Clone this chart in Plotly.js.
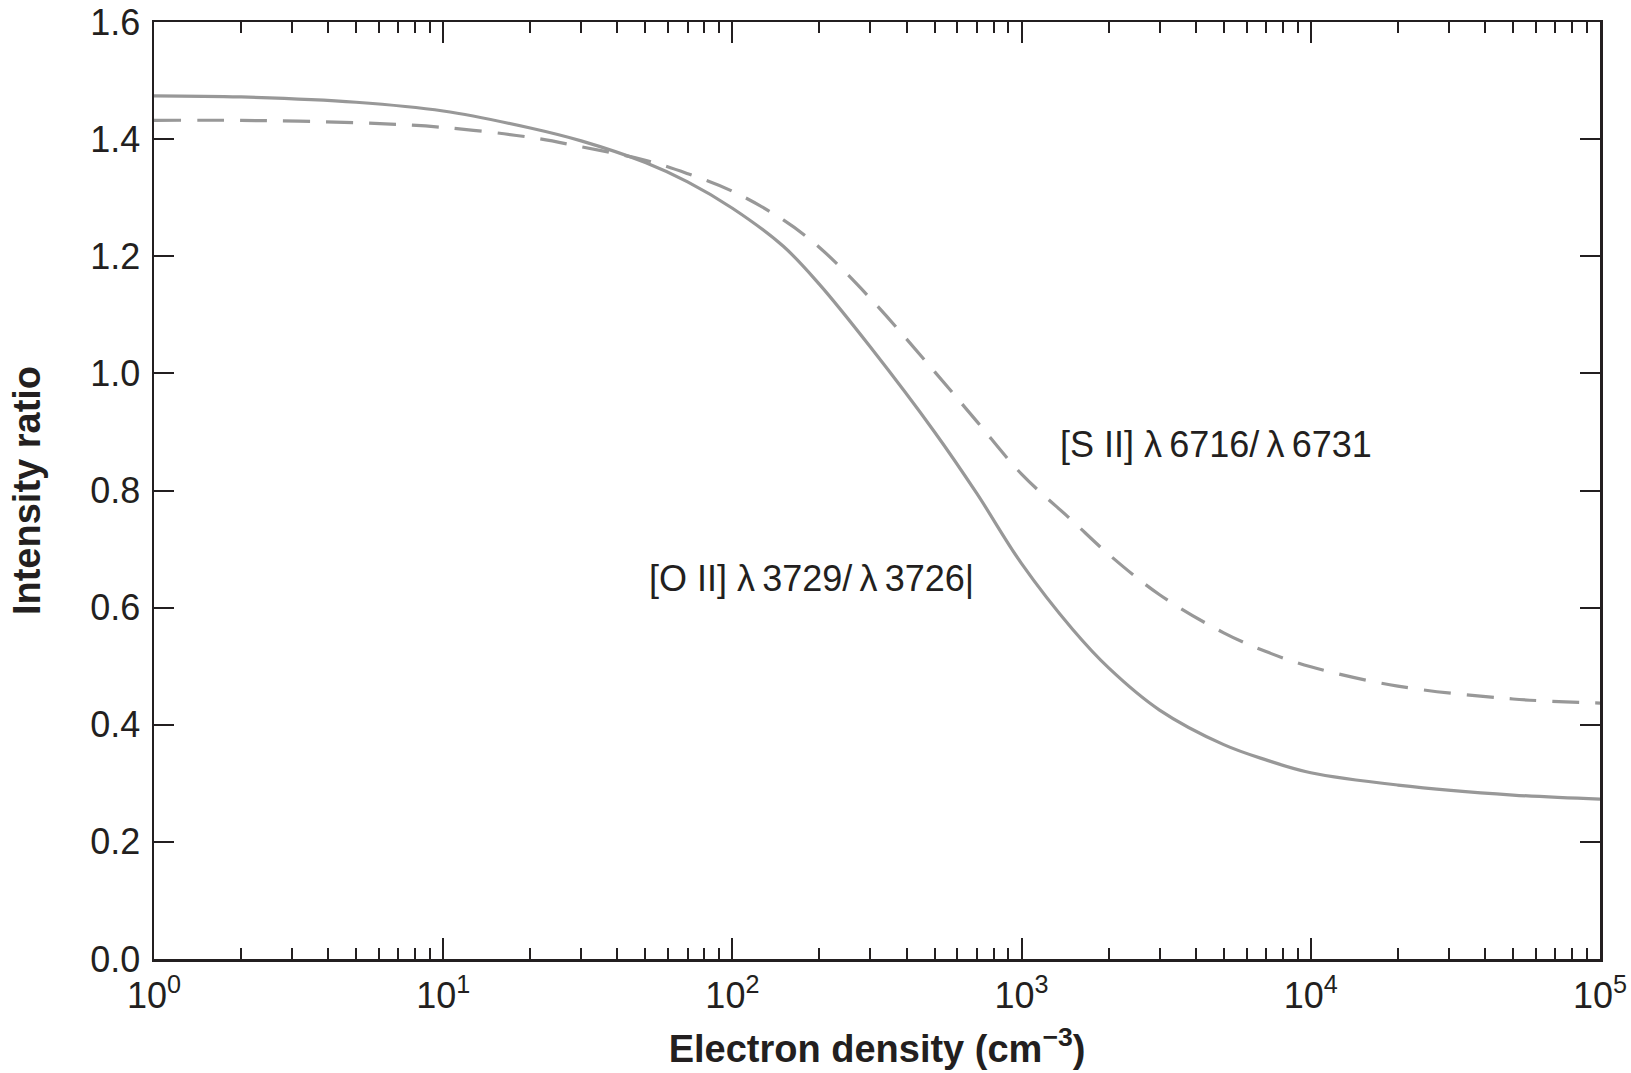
<!DOCTYPE html>
<html><head><meta charset="utf-8">
<script src="https://cdn.plot.ly/plotly-3.0.1.min.js"></script>
<style>html,body{margin:0;padding:0;background:#fff;}#chart{width:1631px;height:1073px;}</style>
</head><body><div id="chart"></div>
<script>
// Electron density (cm^-3)
const density = [1, 2, 5, 10, 20, 30, 50, 70, 100, 150, 200, 300, 500, 700, 1000, 1500, 2000, 3000, 5000, 7000, 10000, 20000, 50000, 100000];
// [O II] 3729/3726 intensity ratio (solid)
const oiiRatio = [1.474, 1.472, 1.463, 1.448, 1.419, 1.397, 1.360, 1.327, 1.282, 1.217, 1.152, 1.045, 0.900, 0.795, 0.675, 0.563, 0.497, 0.425, 0.366, 0.340, 0.318, 0.297, 0.280, 0.273];
// [S II] 6716/6731 intensity ratio (dashed)
const siiRatio = [1.432, 1.432, 1.428, 1.420, 1.403, 1.387, 1.364, 1.341, 1.311, 1.262, 1.215, 1.128, 1.003, 0.918, 0.828, 0.748, 0.691, 0.622, 0.557, 0.525, 0.499, 0.466, 0.444, 0.437];

const xTickVals = [1, 10, 100, 1000, 10000, 100000];
const xTickText = ['10<sup>0</sup>', '10<sup>1</sup>', '10<sup>2</sup>', '10<sup>3</sup>', '10<sup>4</sup>', '10<sup>5</sup>'];
const yTickVals = [0, 0.2, 0.4, 0.6, 0.8, 1.0, 1.2, 1.4, 1.6];
const minorMultipliers = [2, 3, 4, 5, 6, 7, 8, 9];

const labelOII = '[O II] λ\u20093729/\u2009λ\u20093726|';
const labelSII = '[S II] λ\u20096716/\u2009λ\u20096731';
const xTitle = 'Electron density (cm<sup>−3</sup>)';
const yTitle = 'Intensity ratio';

const minorVals = [];
xTickVals.slice(0, -1).forEach(d => minorMultipliers.forEach(m => minorVals.push(d * m)));

const ink = '#231f20';
const curveColor = 'rgb(152,152,152)';
const font = 'Liberation Sans, Arial, Helvetica, sans-serif';

const traces = [
  {x: density, y: oiiRatio, mode: 'lines', name: 'OII', line: {color: curveColor, width: 3.2, shape: 'spline', smoothing: 1}},
  {x: density, y: siiRatio, mode: 'lines', name: 'SII', line: {color: curveColor, width: 3.2, shape: 'spline', smoothing: 1, dash: '27px,16px'}}
];

const layout = {
  width: 1631, height: 1073,
  margin: {l: 154, r: 31, t: 22, b: 114},
  paper_bgcolor: '#fff', plot_bgcolor: '#fff',
  showlegend: false,
  font: {family: font, color: ink, size: 36},
  xaxis: {
    type: 'log', range: [0, 5],
    tickmode: 'array', tickvals: xTickVals, ticktext: xTickText,
    ticks: 'inside', ticklen: 21, tickwidth: 2, tickcolor: ink,
    ticklabelstandoff: 3,
    minor: {tickmode: 'array', tickvals: minorVals, ticks: 'inside', ticklen: 11, tickwidth: 2, tickcolor: ink, showgrid: false},
    showline: true, linewidth: 2.5, linecolor: ink, mirror: 'ticks',
    showgrid: false, zeroline: false,
    tickfont: {size: 36, color: ink, family: font},
    title: {text: xTitle, font: {size: 38, color: ink, family: font, weight: 'bold'}, standoff: 21}
  },
  yaxis: {
    range: [0, 1.6],
    tickmode: 'array', tickvals: yTickVals, tickformat: '.1f',
    ticks: 'inside', ticklen: 20, tickwidth: 2, tickcolor: ink,
    ticklabelstandoff: 4,
    showline: true, linewidth: 2.5, linecolor: ink, mirror: 'ticks',
    showgrid: false, zeroline: false,
    tickfont: {size: 36, color: ink, family: font},
    title: {text: yTitle, font: {size: 38, color: ink, family: font, weight: 'bold'}, standoff: 38}
  },
  annotations: [
    {xref: 'paper', yref: 'paper', x: 0.341, y: 0.4066, xanchor: 'left', yanchor: 'middle', text: labelOII, showarrow: false, font: {size: 36, color: ink, family: font}},
    {xref: 'paper', yref: 'paper', x: 0.625, y: 0.5496, xanchor: 'left', yanchor: 'middle', text: labelSII, showarrow: false, font: {size: 36, color: ink, family: font}}
  ]
};

Plotly.newPlot('chart', traces, layout, {staticPlot: true, displayModeBar: false});
</script>
</body></html>
